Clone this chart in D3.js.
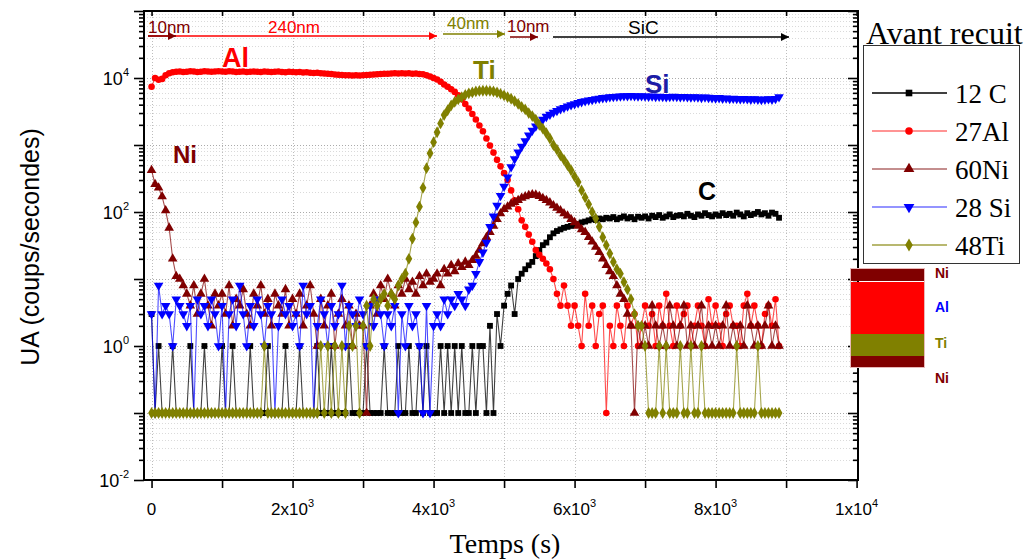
<!DOCTYPE html>
<html><head><meta charset="utf-8">
<script src="https://cdn.jsdelivr.net/npm/d3@7"></script>
<style>body{margin:0;background:#fff}svg{display:block}</style>
</head><body>
<svg id="chart" width="1031" height="560"></svg>
<script>
// ---------- DATA ----------
const times = d3.range(0, 8950, 50); // acquisition times (s), 179 points
const seriesNames = ["12 C", "27Al", "60Ni", "28 Si", "48Ti"];
const seriesColors = ["#000000", "#ff0000", "#800000", "#0000ff", "#808000"];

const valC = [
  3,0.1,1,0.1,0.1,0.1,1,0.1,0.1,0.1,0.1,1,0.1,0.1,0.1,1,0.1,0.1,0.1,0.1,
  1,0.1,0.1,1,0.1,0.1,0.1,0.1,1,0.1,0.1,0.1,0.1,1,0.1,0.1,0.1,0.1,1,0.1,
  0.1,0.1,1,0.1,0.1,0.1,0.1,1,0.1,0.1,0.1,1,0.1,0.1,0.1,0.1,1,0.1,0.1,0.1,
  0.1,1,0.1,0.1,0.1,0.1,1,0.1,0.1,0.1,1,0.1,0.1,1,0.1,0.1,1,0.1,1,0.1,
  0.1,0.1,1,0.1,1,0.1,1,0.1,1,0.1,0.1,1,0.1,1,1,0.1,2,0.1,3,1,
  4,6,8,3,10,12,14,16,18,22,27,32,35,42,48,52,55,58,60,62,
  64,66,70,72,75,78,76,80,78,82,80,84,78,82,86,80,84,78,85,82,
  86,80,88,84,90,82,86,92,84,88,90,86,94,88,84,92,88,96,90,86,
  92,88,96,90,94,88,98,92,86,96,90,94,100,92,96,88,98,94,82
];
const valAl = [
  7400,10000,9400,9700,11000,11800,12200,12400,12500,12300,12400,12600,12500,12300,12400,12600,12500,12400,12500,12600,
  12500,12400,12600,12500,12300,12400,12500,12300,12400,12500,12400,12300,12500,12400,12300,12400,12500,12300,12200,12400,
  12300,12200,12300,12100,12200,12000,11900,12000,11800,11700,11600,11500,11300,11200,11100,11000,11000,10900,11000,10900,
  11000,11100,11200,11300,11400,11500,11600,11600,11700,11800,11700,11800,11700,11800,11600,11700,11500,11400,11000,10500,
  10000,9500,8800,8000,7400,6800,6200,5500,4800,4100,3500,2900,2400,1950,1600,1250,980,770,600,480,
  380,300,210,150,110,75,60,46,36,27,23,20,17,14,10,6,4,8,4,2,
  4,2,1,6,2,4,1,3,4,0.1,2,1,4,2,1,4,2,3,1,2,
  4,2,3,1,4,2,6,2,1,4,2,3,4,1,2,4,2,1,5,2,
  4,2,1,3,4,2,2,1,4,6,2,4,2,1,3,4,2,5,1
];
const valNi = [
  420,260,230,170,105,58,20,11,10,8,6,4,8,3,6,10,4,2,6,4,
  6,3,8,2,5,4,7,3,2,6,4,8,3,5,2,6,4,3,7,2,
  5,3,6,2,4,8,3,1,5,2,4,6,1,3,5,2,4,1,3,2,
  2,0.1,4,6,3,8,5,10,6,4,8,6,10,7,9,6,11,8,12,9,
  10,12,8,14,12,16,13,17,15,18,16,19,22,27,34,42,50,62,78,95,
  110,120,132,140,150,162,170,178,182,180,172,160,150,138,125,115,105,95,88,78,
  70,62,55,50,42,36,30,25,20,16,13,11,8,6,5,3,2,0.1,2,1,
  2,1,4,2,1,2,1,4,2,1,2,4,1,2,1,2,4,1,2,1,
  2,1,2,4,1,2,1,2,1,4,2,1,2,1,2,4,1,2,1
];
const valSi = [
  3,0.1,8,3,4,3,1,5,4,3,2,4,0.1,5,3,4,2,5,3,1,
  4,0.1,3,5,2,8,3,1,4,2,5,3,1,4,3,0.1,2,5,3,4,
  2,3,1,8,3,4,0.1,2,5,3,1,4,2,3,8,1,4,3,2,5,
  3,1,4,2,5,3,1,3,2,4,0.1,3,1,4,2,3,1,0.1,4,0.1,
  2,3,2,5,3,5,4,6,5,4,7,8,12,18,25,35,60,86,125,175,
  240,330,470,620,780,950,1150,1400,1650,1900,2150,2400,2650,2850,3050,3250,3450,3600,3800,3950,
  4100,4250,4400,4550,4650,4750,4850,4950,5050,5100,5200,5250,5300,5350,5400,5400,5450,5400,5350,5400,
  5350,5300,5350,5250,5300,5250,5200,5250,5300,5250,5200,5250,5200,5150,5200,5150,5100,5150,5100,5050,
  5000,5050,4950,5000,4900,4950,4900,4850,4900,4850,4800,4850,4800,4750,4800,4850,4800,4900,5200
];
const valTi = [
  0.1,0.1,0.1,0.1,0.1,0.1,0.1,0.1,0.1,0.1,0.1,0.1,0.1,0.1,0.1,0.1,0.1,0.1,0.1,0.1,
  0.1,0.1,0.1,0.1,0.1,0.1,0.1,0.1,0.1,0.1,0.1,0.1,1,0.1,0.1,0.1,0.1,0.1,0.1,0.1,
  0.1,0.1,0.1,0.1,0.1,0.1,0.1,0.1,1,0.1,1,0.1,1,0.1,1,0.1,2,1,2,0.1,
  2,4,1,5,4,5,6,4,6,5,8,10,12,20,40,70,120,230,450,750,
  1100,1550,2100,2800,3300,3900,4400,4800,5200,5600,5900,6100,6300,6400,6450,6450,6400,6300,6100,5800,
  5500,5200,4900,4500,4100,3700,3400,3000,2700,2400,2000,1750,1500,1250,1000,850,700,600,500,420,
  340,280,210,165,130,100,80,60,42,32,24,18,14,12,9,7,5,3,2,2,
  1,0.1,0.1,0.1,1,0.1,1,0.1,0.1,0.1,1,0.1,0.1,1,0.1,0.1,1,0.1,0.1,0.1,
  0.1,0.1,0.1,0.1,0.1,0.1,1,0.1,0.1,0.1,0.1,0.1,1,0.1,0.1,0.1,0.1,0.1,0.1
];
const seriesValues = [valC, valAl, valNi, valSi, valTi];

const xTickValues = [0, 2000, 4000, 6000, 8000, 10000];
const xTickBase = ["0", "2x10", "4x10", "6x10", "8x10", "1x10"];
const xTickExp = ["", "3", "3", "3", "3", "4"];
const yTickExps = [-2, 0, 2, 4];

// ---------- LAYOUT ----------
const svg = d3.select("#chart");
const L = 144, R = 858, T = 11, B = 480;
const x = d3.scaleLinear().domain([-107, 10020]).range([L, R]);
const y = d3.scaleLog().domain([0.01, 1e5]).range([B, T]);
const sans = "'Liberation Sans', Arial, sans-serif";
const serif = "'Liberation Serif', 'Times New Roman', serif";

const majors = d3.range(-2, 6).map(e => Math.pow(10, e));
const minors = [];
for (let e = -2; e < 5; e++) for (let k = 2; k <= 9; k++) minors.push(k * Math.pow(10, e));
const xMinor = d3.range(0, 10001, 1000);

// grid
const grid = svg.append("g").attr("stroke", "#bdbdbd").attr("stroke-width", 1).attr("stroke-dasharray", "1,2");
grid.selectAll(".h").data(majors.concat(minors).filter(v => v > 0.01 && v < 1e5)).join("line")
  .attr("x1", L).attr("x2", R).attr("y1", d => Math.round(y(d)) + 0.5).attr("y2", d => Math.round(y(d)) + 0.5)
  .attr("stroke", d => majors.includes(d) ? "#aaaaaa" : "#dadada");
grid.selectAll(".v").data(xMinor.filter(v => v < 10000)).join("line")
  .attr("y1", T).attr("y2", B).attr("x1", d => Math.round(x(d)) + 0.5).attr("x2", d => Math.round(x(d)) + 0.5);

// clip
svg.append("defs").append("clipPath").attr("id", "clip").append("rect")
  .attr("x", L).attr("y", T).attr("width", R - L).attr("height", B - T);

const symbols = [d3.symbolSquare, d3.symbolCircle, d3.symbolTriangle, d3.symbolTriangle, d3.symbolDiamond];
const symSizes = [34, 34, 40, 40, 40];
const symRot = [0, 0, 0, 180, 0];
const lineOpacity = [0.75, 0.7, 0.7, 0.7, 0.7];

const plot = svg.append("g").attr("clip-path", "url(#clip)");
seriesValues.forEach((vals, i) => {
  const pts = times.map((t, j) => [t, vals[j]]);
  const g = plot.append("g");
  g.append("path").datum(pts)
    .attr("d", d3.line().x(d => x(d[0])).y(d => y(d[1])))
    .attr("fill", "none").attr("stroke", seriesColors[i]).attr("stroke-width", 1.1)
    .attr("stroke-opacity", lineOpacity[i]);
  g.selectAll("path.m").data(pts).join("path").attr("class", "m")
    .attr("d", d3.symbol().type(symbols[i]).size(symSizes[i]))
    .attr("transform", d => `translate(${x(d[0])},${y(d[1])}) rotate(${symRot[i]})`)
    .attr("fill", seriesColors[i]);
});

// axes
const axG = svg.append("g");
function noLabel(a) { return a.tickFormat(() => ""); }
axG.append("g").attr("transform", `translate(${L},0)`)
  .call(noLabel(d3.axisLeft(y).tickValues(majors).tickSize(10)));
axG.append("g").attr("transform", `translate(${L},0)`)
  .call(noLabel(d3.axisLeft(y).tickValues(minors).tickSize(5)));
axG.append("g").attr("transform", `translate(${R},0)`)
  .call(noLabel(d3.axisLeft(y).tickValues(majors).tickSize(10)));
axG.append("g").attr("transform", `translate(${R},0)`)
  .call(noLabel(d3.axisLeft(y).tickValues(minors).tickSize(5)));
axG.append("g").attr("transform", `translate(0,${B})`)
  .call(noLabel(d3.axisBottom(x).tickValues(xMinor).tickSize(8)));
axG.append("g").attr("transform", `translate(0,${T})`)
  .call(noLabel(d3.axisBottom(x).tickValues(xMinor).tickSize(5)));
axG.selectAll(".domain").remove();
axG.selectAll(".tick line").attr("stroke", "#000").attr("stroke-width", 1.6);
svg.append("rect").attr("x", L).attr("y", T).attr("width", R - L).attr("height", B - T)
  .attr("fill", "none").attr("stroke", "#000").attr("stroke-width", 2);

// tick labels
const xl = svg.append("g").attr("font-family", sans).attr("font-size", 17).attr("text-anchor", "middle");
xTickValues.forEach((v, i) => {
  const t = xl.append("text").attr("x", x(v)).attr("y", 515);
  t.append("tspan").text(xTickBase[i]);
  if (xTickExp[i]) t.append("tspan").attr("dy", -8).attr("font-size", 11).text(xTickExp[i]);
});
const yl = svg.append("g").attr("font-family", sans).attr("font-size", 18).attr("text-anchor", "end");
yTickExps.forEach(e => {
  const t = yl.append("text").attr("x", 129).attr("y", y(Math.pow(10, e)) + 7);
  t.append("tspan").text("10");
  t.append("tspan").attr("dy", -9).attr("font-size", 11).text(String(e));
});

// axis titles
svg.append("text").attr("x", 505).attr("y", 553).attr("text-anchor", "middle")
  .attr("font-family", serif).attr("font-size", 28).text("Temps (s)");
svg.append("text").attr("transform", "translate(39,247) rotate(-90)").attr("text-anchor", "middle")
  .attr("font-family", sans).attr("font-size", 25).text("UA (coups/secondes)");

// element labels in plot
const elLabels = [
  {t: "Al", x: 222, y: 67, c: "#ff0000", s: 27},
  {t: "Ti", x: 473, y: 79, c: "#808000", s: 26},
  {t: "Si", x: 645, y: 93, c: "#1c1ca6", s: 26},
  {t: "Ni", x: 173, y: 163, c: "#800000", s: 24},
  {t: "C", x: 698, y: 200, c: "#000000", s: 25}
];
svg.append("g").attr("font-family", sans).attr("font-weight", "bold")
  .selectAll("text").data(elLabels).join("text")
  .attr("x", d => d.x).attr("y", d => d.y).attr("fill", d => d.c).attr("font-size", d => d.s).text(d => d.t);

// thickness annotations with arrows
const defs = svg.select("defs");
const arrowColors = {dr: "#800000", r: "#ff0000", ol: "#808000", k: "#000000"};
Object.entries(arrowColors).forEach(([k, c]) => {
  defs.append("marker").attr("id", "ar-" + k).attr("viewBox", "0 0 10 10").attr("refX", 10).attr("refY", 5)
    .attr("markerWidth", 10).attr("markerHeight", 8).attr("markerUnits", "userSpaceOnUse").attr("orient", "auto")
    .append("path").attr("d", "M0,0 L10,5 L0,10 z").attr("fill", c);
});
const arrows = [
  {x1: 148, x2: 437, y: 36, k: "r"},
  {x1: 148, x2: 176, y: 36, k: "dr"},
  {x1: 443, x2: 505, y: 34, k: "ol"},
  {x1: 510, x2: 538, y: 37, k: "dr"},
  {x1: 553, x2: 789, y: 37, k: "k"}
];
svg.append("g").selectAll("line").data(arrows).join("line")
  .attr("x1", d => d.x1).attr("x2", d => d.x2).attr("y1", d => d.y).attr("y2", d => d.y)
  .attr("stroke", d => arrowColors[d.k]).attr("stroke-width", 1.5).attr("marker-end", d => `url(#ar-${d.k})`);
const annos = [
  {t: "10nm", x: 148, y: 33, c: "#800000", s: 17},
  {t: "240nm", x: 268, y: 33, c: "#ff0000", s: 17},
  {t: "40nm", x: 447, y: 29, c: "#808000", s: 17},
  {t: "10nm", x: 507, y: 32, c: "#800000", s: 17},
  {t: "SiC", x: 628, y: 34, c: "#000000", s: 19}
];
svg.append("g").attr("font-family", sans).selectAll("text").data(annos).join("text")
  .attr("x", d => d.x).attr("y", d => d.y).attr("fill", d => d.c).attr("font-size", d => d.s).text(d => d.t);

// legend
svg.append("text").attr("x", 866).attr("y", 44).attr("font-family", serif).attr("font-size", 32).text("Avant recuit");
svg.append("rect").attr("x", 863.5).attr("y", 45.5).attr("width", 156).attr("height", 218)
  .attr("fill", "#fff").attr("stroke", "#333").attr("stroke-width", 1);
const legLineCols = ["#000000", "#ff7070", "#b06868", "#7070ff", "#a0a040"];
seriesNames.forEach((n, i) => {
  const ly = 93 + i * 38;
  svg.append("line").attr("x1", 872).attr("x2", 947).attr("y1", ly).attr("y2", ly)
    .attr("stroke", legLineCols[i]).attr("stroke-width", 1.3);
  svg.append("path").attr("d", d3.symbol().type(symbols[i]).size(symSizes[i] + 10))
    .attr("transform", `translate(909,${ly}) rotate(${symRot[i]})`).attr("fill", seriesColors[i]);
  svg.append("text").attr("x", 955).attr("y", ly + 10).attr("font-family", serif).attr("font-size", 27).text(n);
});

// layer stack schematic
const stackLayers = ["Ni", "Al", "Ti", "Ni"];
const stackCols = ["#800000", "#ff0000", "#808000", "#800000"];
const stackY = [[269, 281], [282, 334], [334, 356], [356, 367]];
const stackLabelCols = ["#800000", "#0000ff", "#808000", "#800000"];
const stackLabelY = [278, 312, 348, 383];
stackLayers.forEach((n, i) => {
  svg.append("rect").attr("x", 851).attr("y", stackY[i][0]).attr("width", 73)
    .attr("height", stackY[i][1] - stackY[i][0]).attr("fill", stackCols[i]);
  svg.append("text").attr("x", 935).attr("y", stackLabelY[i]).attr("font-family", sans)
    .attr("font-weight", "bold").attr("font-size", 14).attr("fill", stackLabelCols[i]).text(n);
});
svg.append("rect").attr("x", 850.5).attr("y", 268.5).attr("width", 74).attr("height", 99)
  .attr("fill", "none").attr("stroke", "#e8b8b8").attr("stroke-width", 1);
</script>
</body></html>
